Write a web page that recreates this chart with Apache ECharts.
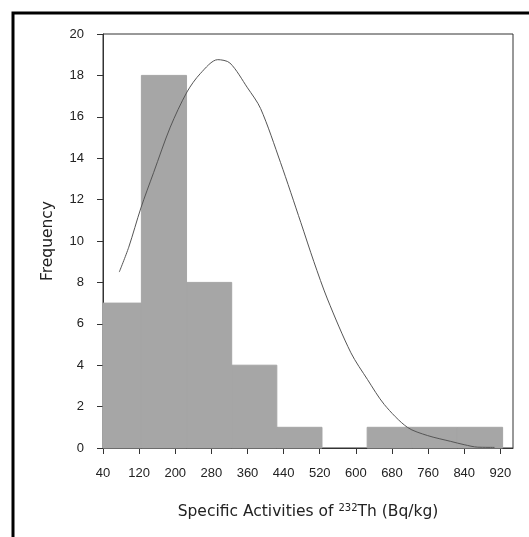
<!DOCTYPE html>
<html>
<head>
    <meta charset="utf-8">
    <title>Histogram 232Th</title>
    <script src="https://cdn.jsdelivr.net/npm/echarts@6/dist/echarts.min.js"></script>
    <style>
      html, body { margin: 0; padding: 0; background: #fff; }
    </style>
</head>
<body>
    <div id="main" style="width:529px;height:537px;"></div>
    <script type="text/javascript">
      // bin edges (Bq/kg) and counts
      var binEdges = [40, 125, 225, 325, 425, 525, 625, 725, 825, 925];
      var counts = [7, 18, 8, 4, 1, 0, 1, 1, 1];
      // fitted normal curve, read point by point
      var curveX = [76, 97, 124, 152, 189, 226, 256, 294, 321, 360, 389, 433, 478, 507, 537, 589, 626, 663, 714, 759, 810, 840, 870, 907];
      var curveY = [8.5, 9.7, 11.6, 13.3, 15.5, 17.2, 18.1, 18.76, 18.6, 17.4, 16.4, 13.8, 10.9, 9.0, 7.2, 4.6, 3.3, 2.1, 1.0, 0.6, 0.32, 0.16, 0.04, 0.03];
      var xTicks = [40, 120, 200, 280, 360, 440, 520, 600, 680, 760, 840, 920];

      var bins = [];
      counts.forEach(function (c, i) {
        bins.push([binEdges[i], binEdges[i + 1], c]);
      });
      var curve = curveX.map(function (x, i) { return [x, curveY[i]]; });

      var echart = echarts.init(document.getElementById('main'));
      var option = {
        animation: false,
        textStyle: { fontFamily: 'Liberation Sans' },
        grid: { left: 103, right: 16, top: 34, bottom: 89, show: true, borderColor: '#333', borderWidth: 1 },
        graphic: [{
          type: 'rect', shape: { x: 13, y: 13, width: 600, height: 600 },
          style: { fill: null, stroke: '#000', lineWidth: 3 }, z: 100
        }],
        xAxis: {
          type: 'value', min: 40, max: 948,
          splitLine: { show: false },
          axisLine: { lineStyle: { color: '#333' } },
          axisTick: { customValues: xTicks, length: 6, lineStyle: { color: '#333' } },
          axisLabel: { customValues: xTicks, margin: 19, fontSize: 13, color: '#222' },
          name: '{a|Specific Activities of }{s|232}{a|Th (Bq/kg)}',
          nameLocation: 'middle', nameGap: 55,
          nameTextStyle: {
            rich: {
              a: { fontSize: 15.5, color: '#222', fontFamily: 'DejaVu Sans' },
              s: { fontSize: 10, color: '#222', fontFamily: 'DejaVu Sans', padding: [0, 0, 8, 0] }
            }
          }
        },
        yAxis: {
          type: 'value', min: 0, max: 20, interval: 2,
          splitLine: { show: false },
          axisLine: { show: true, lineStyle: { color: '#333' } },
          axisTick: { show: true, length: 6, lineStyle: { color: '#333' } },
          axisLabel: { margin: 19, fontSize: 13, color: '#222' },
          name: 'Frequency', nameLocation: 'middle', nameGap: 47,
          nameTextStyle: { fontSize: 15.5, color: '#222', fontFamily: 'DejaVu Sans' }
        },
        series: [
          {
            type: 'custom',
            data: bins,
            renderItem: function (params, api) {
              if (api.value(2) <= 0) return null;
              var p0 = api.coord([api.value(0), api.value(2)]);
              var p1 = api.coord([api.value(1), 0]);
              return {
                type: 'rect',
                shape: { x: p0[0], y: p0[1], width: p1[0] - p0[0], height: p1[1] - p0[1] },
                style: { fill: '#a6a6a6', stroke: '#a6a6a6', lineWidth: 1 }
              };
            },
            z: 1
          },
          {
            type: 'line', data: curve, smooth: 0.3, showSymbol: false,
            lineStyle: { color: '#555', width: 1 }, z: 3
          }
        ]
      };
      echart.setOption(option);
    </script>
</body>
</html>
